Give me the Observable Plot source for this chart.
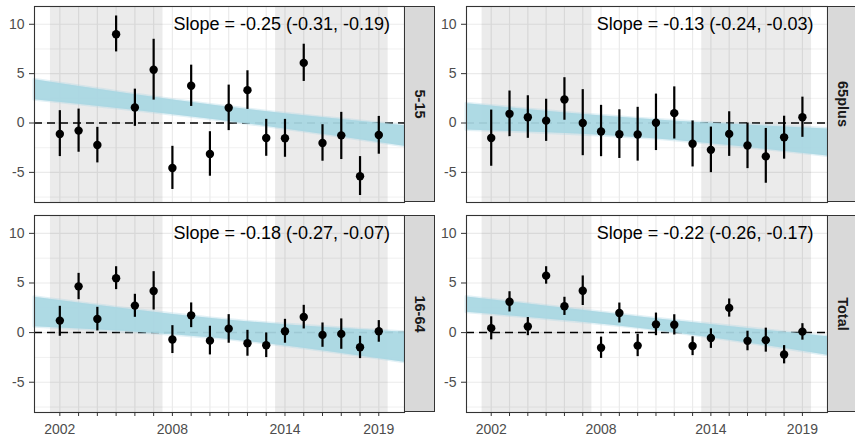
<!DOCTYPE html>
<html><head><meta charset="utf-8">
<script src="https://cdn.jsdelivr.net/npm/d3@7"></script>
<script src="https://cdn.jsdelivr.net/npm/@observablehq/plot@0.6"></script>
<style>
body{margin:0;background:#fff;}
#chart{position:relative;width:855px;height:436px;overflow:hidden;font-family:"Liberation Sans",Arial,sans-serif;background:#fff;}
.panel{position:absolute;}
.strip{position:absolute;background:#d9d9d9;border:1px solid #333;box-sizing:border-box;}
.strip span{position:absolute;left:50%;top:50%;transform:translate(-50%,-50%) rotate(90deg);font-weight:bold;font-size:14.5px;color:#1a1a1a;white-space:nowrap;}
</style></head>
<body><div id="chart"></div>
<script>
// ---- data ----
const years = [2002,2003,2004,2005,2006,2007,2008,2009,2010,2011,2012,2013,2014,2015,2016,2017,2018,2019];
const xLabels = [2002,2008,2014,2019];
const yTicks = [10,5,0,-5];
const yMinor = [7.5,2.5,-2.5,-7.5];
const shadeStart = [2001.5,2013.5];
const shadeEnd = [2007.5,2019.5];
const xDomain = [2000.65,2020.37];
const yDomain = [-8.05,11.8];

const facetNames = ["5-15","65plus","16-64","Total"];
const slopeLabels = ["Slope = -0.25 (-0.31, -0.19)","Slope = -0.13 (-0.24, -0.03)","Slope = -0.18 (-0.27, -0.07)","Slope = -0.22 (-0.26, -0.17)"];
const labelX = 2019.6, labelY = 10;

const est_5_15 = [-1.11,-0.77,-2.22,8.99,1.58,5.39,-4.55,3.77,-3.13,1.55,3.33,-1.52,-1.55,6.09,-2.02,-1.25,-5.39,-1.21];
const lo_5_15  = [-3.4,-2.96,-4.04,7.2,-0.34,2.32,-6.73,1.68,-5.39,-0.77,1.38,-3.37,-3.47,4.21,-3.87,-3.7,-7.34,-3.16];
const hi_5_15  = [1.25,1.41,-0.44,10.84,3.43,8.48,-2.36,5.86,-0.88,3.84,5.29,0.37,0.37,7.98,-0.17,1.08,-3.4,0.67];

const est_65 = [-1.52,0.93,0.59,0.24,2.38,0.0,-0.86,-1.14,-1.17,0.03,1.0,-2.1,-2.72,-1.1,-2.28,-3.38,-1.45,0.59];
const lo_65  = [-4.38,-1.38,-1.55,-1.86,0.28,-3.31,-3.41,-3.59,-3.86,-2.79,-1.62,-4.45,-5.03,-3.38,-4.62,-6.1,-3.66,-1.45];
const hi_65  = [1.31,3.24,2.76,2.41,4.59,3.38,1.79,1.34,1.59,2.93,3.66,0.21,-0.41,1.14,0.0,-0.55,0.69,2.62];

const est_16_64 = [1.21,4.66,1.38,5.47,2.72,4.19,-0.7,1.74,-0.81,0.4,-1.07,-1.28,0.13,1.58,-0.23,-0.13,-1.48,0.13];
const lo_16_64  = [-0.37,3.32,0.17,4.33,1.54,2.28,-2.11,0.5,-2.25,-1.07,-2.38,-2.52,-1.07,0.37,-1.48,-1.68,-2.62,-0.97];
const hi_16_64  = [2.65,5.97,2.55,6.64,3.86,6.14,0.7,2.99,0.64,1.81,0.23,-0.03,1.34,2.75,0.97,1.38,-0.37,1.21];

const est_total = [0.45,3.11,0.62,5.74,2.66,4.22,-1.52,1.97,-1.31,0.83,0.8,-1.35,-0.55,2.49,-0.83,-0.76,-2.21,0.1];
const lo_total  = [-0.73,2.08,-0.31,4.88,1.73,2.73,-2.6,0.97,-2.42,-0.31,-0.24,-2.32,-1.59,1.56,-1.83,-1.97,-3.15,-0.76];
const hi_total  = [1.59,4.12,1.52,6.64,3.56,5.71,-0.45,2.98,-0.17,1.97,1.8,-0.42,0.38,3.39,0.14,0.45,-1.31,0.9];

// trend ribbon (lower / upper) read at left edge, middle, right edge
const ribbonX = [2000.65,2010.5,2020.37];
const ribLo_5_15 = [2.36,0.28,-2.36], ribHi_5_15 = [4.38,1.72,-0.27];
const ribLo_65 = [-0.7,-1.55,-3.35],  ribHi_65 = [1.95,0.38,-0.6];
const ribLo_16_64 = [0.6,-0.6,-2.99], ribHi_16_64 = [3.56,1.35,0.03];
const ribLo_total = [2.04,0.35,-2.28], ribHi_total = [3.6,1.5,-0.42];

// ---- layout ----
const panels = [
  {name:facetNames[0], label:slopeLabels[0], est:est_5_15, lo:lo_5_15, hi:hi_5_15, rlo:ribLo_5_15, rhi:ribHi_5_15, left:0, top:0, pw:370, ph:196, bottom:false},
  {name:facetNames[1], label:slopeLabels[1], est:est_65, lo:lo_65, hi:hi_65, rlo:ribLo_65, rhi:ribHi_65, left:432, top:0, pw:361, ph:196, bottom:false},
  {name:facetNames[2], label:slopeLabels[2], est:est_16_64, lo:lo_16_64, hi:hi_16_64, rlo:ribLo_16_64, rhi:ribHi_16_64, left:0, top:209, pw:370, ph:197, bottom:true},
  {name:facetNames[3], label:slopeLabels[3], est:est_total, lo:lo_total, hi:hi_total, rlo:ribLo_total, rhi:ribHi_total, left:432, top:209, pw:361, ph:197, bottom:true}
];

const shades = shadeStart.map((s,i)=>({start:s,end:shadeEnd[i]}));
const chart = document.getElementById("chart");
const ML = 34, MT = 6;

for (const p of panels) {
  const pts = years.map((yr,i)=>({year:yr, est:p.est[i], lo:p.lo[i], hi:p.hi[i]}));
  const rib = ribbonX.map((x,i)=>({x, lo:p.rlo[i], hi:p.rhi[i]}));
  const MB = p.bottom ? 24 : 1;
  const marks = [
    Plot.gridY(yMinor,{stroke:"#ebebeb",strokeOpacity:1,strokeWidth:0.7}),
    Plot.gridY(yTicks,{stroke:"#ebebeb",strokeOpacity:1,strokeWidth:1.2}),
    Plot.gridX(years,{stroke:"#ebebeb",strokeOpacity:1,strokeWidth:1.2}),
    Plot.rect(shades,{x1:"start",x2:"end",fill:"#000",fillOpacity:0.08}),
    Plot.ruleY([0],{stroke:"#000",strokeWidth:1.5,strokeDasharray:"8,5"}),
    Plot.areaY(rib,{x:"x",y1:"lo",y2:"hi",fill:"#add8e6",fillOpacity:0.35,stroke:"#add8e6",strokeOpacity:0.35,strokeWidth:3,curve:"natural"}),
    Plot.areaY(rib,{x:"x",y1:"lo",y2:"hi",fill:"#a9d7e2",fillOpacity:0.9,curve:"natural"}),
    Plot.ruleX(pts,{x:"year",y1:"lo",y2:"hi",stroke:"#000",strokeWidth:2.2}),
    Plot.dot(pts,{x:"year",y:"est",r:4.2,fill:"#000",stroke:null}),
    Plot.text([{x:labelX,y:labelY,t:p.label}],{x:"x",y:"y",text:"t",textAnchor:"end",fontSize:18,fill:"#000"}),
    Plot.frame({stroke:"#333",strokeWidth:1.1}),
    Plot.axisY(yTicks,{tickSize:5,tickPadding:5,stroke:"#333",fill:"#4d4d4d",fontSize:14,tickFormat:d=>String(d),label:null})
  ];
  if (p.bottom) {
    marks.push(Plot.axisX(years,{tickSize:4,tickPadding:8,stroke:"#333",fill:"#4d4d4d",fontSize:14,
      tickFormat:d=>xLabels.includes(d)?String(d):"",label:null}));
  }
  const svg = Plot.plot({
    width: ML + p.pw,
    height: MT + p.ph + MB,
    marginLeft: ML, marginRight: 0, marginTop: MT, marginBottom: MB,
    x: {domain:xDomain, axis: p.bottom ? undefined : null},
    y: {domain:yDomain},
    style: {fontFamily:'"Liberation Sans",Arial,sans-serif', fontSize:"14px", background:"transparent", overflow:"visible"},
    marks
  });
  svg.classList.add("panel");
  svg.style.left = p.left + "px";
  svg.style.top = p.top + "px";
  chart.appendChild(svg);

  const strip = document.createElement("div");
  strip.className = "strip";
  strip.style.left = (p.left + ML + p.pw) + "px";
  strip.style.top = (p.top + MT) + "px";
  strip.style.width = "31px";
  strip.style.height = p.ph + "px";
  const span = document.createElement("span");
  span.textContent = p.name;
  strip.appendChild(span);
  chart.appendChild(strip);
}
</script>
</body></html>
